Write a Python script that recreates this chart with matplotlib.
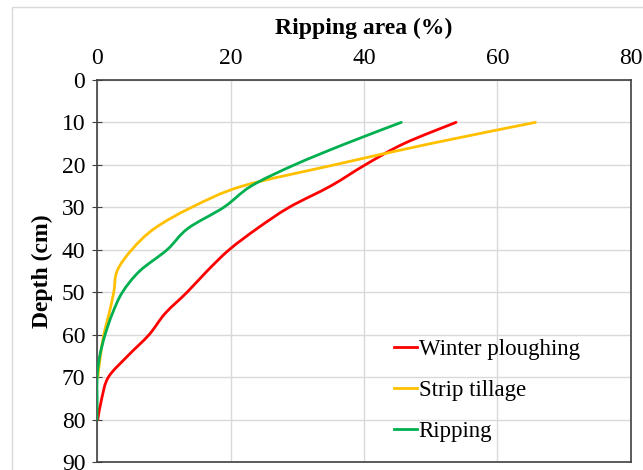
import numpy as np
import matplotlib.pyplot as plt
from matplotlib.path import Path
from matplotlib.patches import PathPatch, Rectangle
from matplotlib.lines import Line2D

plt.rcParams['font.family'] = ['Liberation Serif', 'DejaVu Serif']

depth = [10, 15, 20, 25, 30, 35, 40, 45, 50, 55, 60, 65, 70, 75, 80]
winter_ploughing = [53.8, 46.0, 40.2, 35.0, 28.8, 24.0, 19.8, 16.5, 13.5, 10.2, 7.8, 4.6, 1.7, 0.7, 0.1]
depth_strip = [10, 15, 20, 25, 30, 35, 40, 45, 50, 55, 60, 65, 70]
strip_tillage = [65.7, 50.0, 35.6, 21.8, 14.2, 8.6, 5.2, 3.0, 2.5, 1.8, 1.0, 0.5, 0.1]
ripping = [45.6, 37.3, 29.6, 23.1, 19.0, 13.6, 10.5, 6.4, 3.8, 2.3, 1.2, 0.4, 0.0, 0.0, 0.0]

series = [
    ("Winter ploughing", winter_ploughing, depth, "#ff0000"),
    ("Strip tillage", strip_tillage, depth_strip, "#ffc000"),
    ("Ripping", ripping, depth, "#00b050"),
]

x_ticks = [0, 20, 40, 60, 80]
y_ticks = [0, 10, 20, 30, 40, 50, 60, 70, 80, 90]


def smooth_path(xs, ys):
    # excel-like smoothed line: cubic bezier through every point
    pts = np.column_stack([xs, ys]).astype(float)
    n = len(pts)
    verts = [pts[0]]
    codes = [Path.MOVETO]
    for i in range(n - 1):
        p0 = pts[i - 1] if i > 0 else pts[i]
        p1 = pts[i]
        p2 = pts[i + 1]
        p3 = pts[i + 2] if i + 2 < n else pts[i + 1]
        c1 = p1 + (p2 - p0) / 6.0
        c2 = p2 - (p3 - p1) / 6.0
        verts += [c1, c2, p2]
        codes += [Path.CURVE4] * 3
    return Path(verts, codes)


fig = plt.figure(figsize=(6.43, 4.70), dpi=100)
ax = fig.add_axes([0.151, 0.017, 0.830, 0.813])

# light frame around the whole chart
fig.patches.append(Rectangle((12 / 643, -0.1), 1.2, 1.1 - 7 / 470, transform=fig.transFigure,
                             fill=False, edgecolor='#d9d9d9', linewidth=1))

handles = []
for name, xs, ys, col in series:
    ax.add_patch(PathPatch(smooth_path(xs, ys), facecolor='none', edgecolor=col, linewidth=2.0,
                           capstyle='round', zorder=3))
    handles.append(Line2D([], [], color=col, linewidth=2.0))

ax.set_xlim(0, 80)
ax.set_ylim(90, 0)
ax.xaxis.tick_top()
ax.xaxis.set_label_position('top')
ax.set_xticks(x_ticks)
ax.set_yticks(y_ticks)
ax.set_xticks([0, 40, 80], minor=True)
ax.tick_params(axis='x', which='major', length=0, labelsize=17, pad=8)
ax.tick_params(axis='x', which='minor', length=7, direction='inout', color='#404040')
ax.tick_params(axis='y', length=7, direction='inout', labelsize=17, pad=5, color='#404040')
ax.grid(True, color='#d9d9d9', linewidth=1)
ax.set_axisbelow(True)
for s in ax.spines.values():
    s.set_color('#404040')
    s.set_linewidth(1.2)

ax.set_xlabel("Ripping area (%)", fontsize=17, fontweight='bold', labelpad=10)
ax.set_ylabel("Depth (cm)", fontsize=17, fontweight='bold', labelpad=6)

ax.legend(handles, [s[0] for s in series], loc='upper left', bbox_to_anchor=(0.54, 0.345),
          frameon=False, fontsize=16.5, handlelength=1.0, handletextpad=0.05, labelspacing=0.86,
          borderaxespad=0)

plt.savefig("out.png")
plt.close()
